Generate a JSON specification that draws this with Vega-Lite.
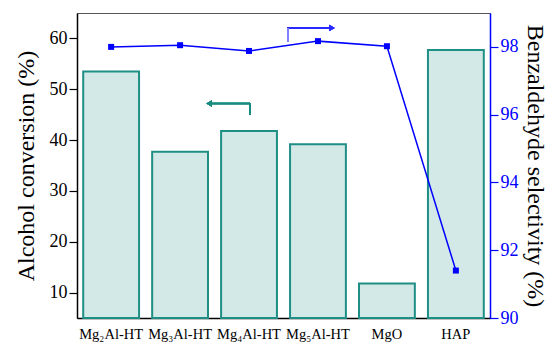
{
  "$schema": "https://vega.github.io/schema/vega-lite/v6.json",
  "width": 413,
  "height": 305,
  "autosize": {"type": "none"},
  "padding": {"left": 77, "top": 13, "right": 61, "bottom": 29},
  "background": "white",
  "config": {
    "view": {"stroke": "#555555", "strokeWidth": 1},
    "font": "Liberation Serif"
  },
  "data": {
    "values": [
      {"catalyst": "Mg₂Al-HT", "conversion": 53.5, "selectivity": 98.0},
      {"catalyst": "Mg₃Al-HT", "conversion": 37.7, "selectivity": 98.05},
      {"catalyst": "Mg₄Al-HT", "conversion": 41.8, "selectivity": 97.88},
      {"catalyst": "Mg₅Al-HT", "conversion": 39.2, "selectivity": 98.17},
      {"catalyst": "MgO", "conversion": 11.8, "selectivity": 98.02},
      {"catalyst": "HAP", "conversion": 57.7, "selectivity": 91.4}
    ]
  },
  "encoding": {
    "x": {
      "field": "catalyst",
      "type": "nominal",
      "sort": null,
      "scale": {"paddingInner": 0.19, "paddingOuter": 0.09},
      "axis": {
        "title": null,
        "labelAngle": 0,
        "ticks": false,
        "labelFont": "Liberation Serif",
        "labelFontSize": 14.5,
        "labelColor": "black",
        "labelPadding": 9,
        "domainColor": "black",
        "domainWidth": 1.5
      }
    }
  },
  "layer": [
    {
      "layer": [
        {
          "mark": {"type": "bar", "fill": "#d2e9e7", "stroke": "#1f8f85", "strokeWidth": 2},
          "encoding": {
            "y": {
              "field": "conversion",
              "type": "quantitative",
              "scale": {"domain": [5, 65], "zero": false, "nice": false},
              "axis": {
                "title": "Alcohol conversion (%)",
                "titleFont": "Liberation Serif",
                "titleFontSize": 24,
                "titleFontWeight": "normal",
                "titleColor": "black",
                "titlePadding": 11,
                "values": [10, 15, 20, 25, 30, 35, 40, 45, 50, 55, 60],
                "labelExpr": "datum.value % 10 === 0 ? datum.label : ''",
                "labelFont": "Liberation Serif",
                "labelFontSize": 18,
                "labelColor": "black",
                "labelPadding": 2,
                "tickColor": "black",
                "tickWidth": 1.2,
                "tickSize": {"condition": {"test": "datum.value % 10 === 0", "value": 8}, "value": 4},
                "domainColor": "black",
                "domainWidth": 1.5,
                "grid": false
              }
            },
            "y2": {"datum": 5}
          }
        },
        {
          "mark": {"type": "rule", "color": "#1a8c80", "strokeWidth": 1.5, "xOffset": 30, "x2Offset": 1},
          "encoding": {
            "x": {"datum": "Mg₃Al-HT", "type": "nominal"},
            "x2": {"datum": "Mg₄Al-HT"},
            "y": {"datum": 47.2, "type": "quantitative"}
          }
        },
        {
          "mark": {"type": "rule", "color": "#1a8c80", "strokeWidth": 1.5, "xOffset": 1},
          "encoding": {
            "x": {"datum": "Mg₄Al-HT", "type": "nominal"},
            "y": {"datum": 47.2, "type": "quantitative"},
            "y2": {"datum": 45}
          }
        },
        {
          "mark": {"type": "point", "shape": "triangle-left", "filled": true, "color": "#1a8c80", "size": 40, "opacity": 1, "xOffset": 29},
          "encoding": {
            "x": {"datum": "Mg₃Al-HT", "type": "nominal"},
            "y": {"datum": 47.2, "type": "quantitative"}
          }
        }
      ]
    },
    {
      "layer": [
        {
          "mark": {"type": "line", "color": "#0000ff", "strokeWidth": 1.5},
          "encoding": {
            "y": {
              "field": "selectivity",
              "type": "quantitative",
              "scale": {"domain": [90, 99], "zero": false, "nice": false},
              "axis": {
                "orient": "right",
                "title": "Benzaldehyde selectivity (%)",
                "titleFont": "Liberation Serif",
                "titleFontSize": 24,
                "titleFontWeight": "normal",
                "titleColor": "black",
                "titlePadding": 4,
                "values": [90, 91, 92, 93, 94, 95, 96, 97, 98],
                "labelExpr": "datum.value % 2 === 0 ? datum.label : ''",
                "labelFont": "Liberation Serif",
                "labelFontSize": 18,
                "labelColor": "#0000ff",
                "labelPadding": 2,
                "tickColor": "#0000ff",
                "tickWidth": 1.2,
                "tickSize": {"condition": {"test": "datum.value % 2 === 0", "value": 8}, "value": 4},
                "domainColor": "#0000ff",
                "domainWidth": 1.5,
                "grid": false
              }
            }
          }
        },
        {
          "mark": {"type": "point", "shape": "square", "filled": true, "color": "#0000ff", "size": 36, "opacity": 1},
          "encoding": {
            "y": {"field": "selectivity", "type": "quantitative"}
          }
        },
        {
          "mark": {"type": "rule", "color": "#2a2aff", "strokeWidth": 1.5, "xOffset": -31, "x2Offset": 13},
          "encoding": {
            "x": {"datum": "Mg₅Al-HT", "type": "nominal"},
            "x2": {"datum": "Mg₅Al-HT"},
            "y": {"datum": 98.56, "type": "quantitative"}
          }
        },
        {
          "mark": {"type": "rule", "color": "#8080ff", "strokeWidth": 1.5, "xOffset": -30},
          "encoding": {
            "x": {"datum": "Mg₅Al-HT", "type": "nominal"},
            "y": {"datum": 98.56, "type": "quantitative"},
            "y2": {"datum": 98.15}
          }
        },
        {
          "mark": {"type": "point", "shape": "triangle-right", "filled": true, "color": "#2a2aff", "size": 40, "opacity": 1, "xOffset": 14},
          "encoding": {
            "x": {"datum": "Mg₅Al-HT", "type": "nominal"},
            "y": {"datum": 98.56, "type": "quantitative"}
          }
        }
      ]
    }
  ],
  "resolve": {"scale": {"y": "independent"}}
}
